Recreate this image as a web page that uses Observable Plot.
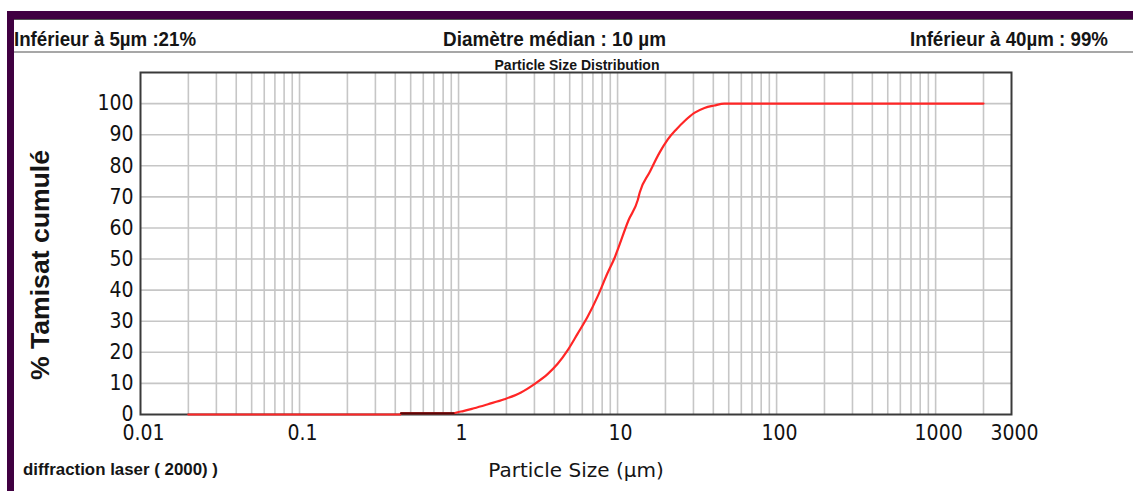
<!DOCTYPE html>
<html>
<head>
<meta charset="utf-8">
<script src="https://cdn.jsdelivr.net/npm/d3@7"></script>
<script src="https://cdn.jsdelivr.net/npm/@observablehq/plot@0.6"></script>
<style>
  html, body { margin: 0; padding: 0; background: #fff; }
  #wrap { position: relative; width: 1133px; height: 491px; overflow: hidden; }
  #wrap svg { position: absolute; left: 0; top: 0; }
</style>
</head>
<body>
<div id="wrap"></div>
<script>
// ---- data ----
const sizes = [0.02, 0.43, 0.435, 0.93, 1.0, 1.07, 1.25, 1.53, 1.94, 2.47, 3.0, 3.63, 4.2, 4.86, 5.61, 6.49, 7.49, 8.65, 9.6, 10.1, 11.7, 13.4, 13.8, 15.9, 18.4, 20.7, 23.4, 26.4, 30.4, 35.2, 40.6, 46.9, 2000];
const cumul = [0, 0, 0.4, 0.4, 0.8, 1.1, 2.0, 3.3, 4.9, 7.1, 9.8, 13, 16.3, 20.7, 26, 31.5, 38, 45.5, 50.5, 53.5, 62.4, 69, 71.5, 77.9, 84.3, 88.5, 91.7, 94.4, 97, 98.6, 99.4, 100, 100];
const darkSizes = [0.435, 0.93];
const darkCumul = [0.4, 0.4];

const xTicks = [0.01, 0.1, 1, 10, 100, 1000, 3000];
const xTickLabels = ["0.01", "0.1", "1", "10", "100", "1000", "3000"];
const yTicks = [0, 10, 20, 30, 40, 50, 60, 70, 80, 90, 100];
const xGrid = [0.02, 0.03, 0.04, 0.05, 0.06, 0.07, 0.08, 0.09,
               0.1, 0.2, 0.3, 0.4, 0.5, 0.6, 0.7, 0.8, 0.9,
               1, 2, 3, 4, 5, 6, 7, 8, 9,
               10, 20, 30, 40, 50, 60, 70, 80, 90,
               100, 200, 300, 400, 500, 600, 700, 800, 900,
               1000, 2000];
const yGrid = [10, 20, 30, 40, 50, 60, 70, 80, 90, 100];

const headerLeft = "Inférieur à 5µm :21%";
const headerCenter = "Diamètre médian : 10 µm";
const headerRight = "Inférieur à 40µm : 99%";
const chartTitle = "Particle Size Distribution";
const xLabel = "Particle Size (µm)";
const yLabel = "% Tamisat cumulé";
const caption = "diffraction laser ( 2000) )";

const curve = sizes.map((s, i) => ({size: s, pct: cumul[i]}));
const dark = darkSizes.map((s, i) => ({size: s, pct: darkCumul[i]}));
const xTickData = xTicks.map((v, i) => ({v, label: xTickLabels[i]}));

const W = 1133, H = 491;
const chart = Plot.plot({
  width: W, height: H,
  marginLeft: 140, marginRight: 122, marginTop: 72, marginBottom: 77,
  style: {fontFamily: "'DejaVu Sans Condensed','DejaVu Sans',sans-serif", fontStretch: "condensed", fontSize: "21px", color: "#111", background: "none", overflow: "visible"},
  x: {type: "log", domain: [0.01, 3000], axis: null},
  y: {domain: [0, 110]},
  marks: [
    Plot.gridX(xGrid, {stroke: "#c6c6c6", strokeOpacity: 1, strokeWidth: 1.6}),
    Plot.gridY(yGrid, {stroke: "#c6c6c6", strokeOpacity: 1, strokeWidth: 1.6}),
    Plot.frame({stroke: "#3a3a3a", strokeWidth: 2}),
    Plot.text(xTickData, {x: "v", text: "label", frameAnchor: "bottom", lineAnchor: "top",
      dy: 11, dx: 3, fontSize: 21, fill: "#111"}),
    Plot.axisY(yTicks, {tickSize: 0, tickPadding: 7, label: null, fontSize: 21}),
    Plot.line(curve, {x: "size", y: "pct", stroke: "#ff2626", strokeWidth: 2.2, curve: "monotone-x"}),
    Plot.line(dark, {x: "size", y: "pct", stroke: "#5a0606", strokeWidth: 2.2})
  ]
});
document.getElementById("wrap").appendChild(chart);

// ---- page decorations and texts ----
const ov = d3.create("svg").attr("width", W).attr("height", H)
  .style("pointer-events", "none");
const purple = "#400041";
ov.append("rect").attr("x", 7).attr("y", 11).attr("width", W - 7).attr("height", 8).attr("fill", purple);
ov.append("rect").attr("x", 7).attr("y", 11).attr("width", 7).attr("height", H - 11).attr("fill", purple);
ov.append("line").attr("x1", 14).attr("x2", W).attr("y1", 19.5).attr("y2", 19.5).attr("stroke", "#555").attr("stroke-width", 1);
ov.append("line").attr("x1", 14).attr("x2", W).attr("y1", 52).attr("y2", 52).attr("stroke", "#8a8a8a").attr("stroke-width", 1.6);

const hdr = (txt, x, len) => ov.append("text")
  .attr("x", x).attr("y", 46)
  .attr("font-family", "'Liberation Sans', Arial, sans-serif")
  .attr("font-weight", "bold").attr("font-size", 21).attr("fill", "#151515")
  .attr("textLength", len).attr("lengthAdjust", "spacingAndGlyphs")
  .text(txt);
hdr(headerLeft, 14, 182);
hdr(headerCenter, 443, 223);
hdr(headerRight, 910, 198);

ov.append("text").attr("x", 577).attr("y", 70).attr("text-anchor", "middle")
  .attr("font-family", "'Liberation Sans', Arial, sans-serif")
  .attr("font-weight", "bold").attr("font-size", 14).attr("fill", "#151515")
  .text(chartTitle);

ov.append("text").attr("x", 576).attr("y", 477).attr("text-anchor", "middle")
  .attr("font-family", "'DejaVu Sans', sans-serif")
  .attr("font-size", 20).attr("fill", "#151515")
  .text(xLabel);

ov.append("text").attr("transform", "translate(49,265) rotate(-90)").attr("text-anchor", "middle")
  .attr("font-family", "'Liberation Sans', Arial, sans-serif")
  .attr("font-weight", "bold").attr("font-size", 25).attr("fill", "#151515")
  .attr("textLength", 230).attr("lengthAdjust", "spacingAndGlyphs")
  .text(yLabel);

ov.append("text").attr("x", 23).attr("y", 475)
  .attr("font-family", "'Liberation Sans', Arial, sans-serif")
  .attr("font-weight", "bold").attr("font-size", 17).attr("fill", "#151515")
  .attr("textLength", 195).attr("lengthAdjust", "spacingAndGlyphs")
  .text(caption);

document.getElementById("wrap").appendChild(ov.node());
</script>
</body>
</html>
